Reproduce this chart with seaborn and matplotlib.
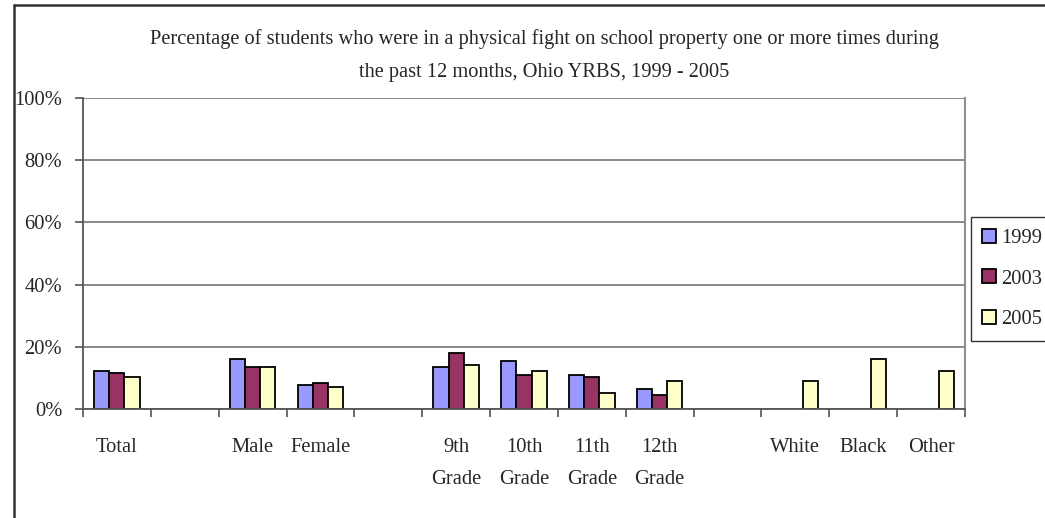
import numpy as np
import pandas as pd
import matplotlib
matplotlib.use("Agg")
import matplotlib.pyplot as plt
import seaborn as sns
from matplotlib.ticker import PercentFormatter
from matplotlib.lines import Line2D

# categories (blank slots are gaps between groups)
groups = ["Total", " ", "Male", "Female", "  ", "9th\nGrade", "10th\nGrade",
          "11th\nGrade", "12th\nGrade", "   ", "White", "Black", "Other"]
years = ["1999", "2003", "2005"]

# percent values (nan = no bar)
v1999 = [12.1, np.nan, 16.0, 7.6, np.nan, 13.4, 15.4, 11.0, 6.5, np.nan, np.nan, np.nan, np.nan]
v2003 = [11.6, np.nan, 13.4, 8.4, np.nan, 18.1, 10.8, 10.2, 4.4, np.nan, np.nan, np.nan, np.nan]
v2005 = [10.2, np.nan, 13.4, 7.0, np.nan, 14.2, 12.1, 5.2, 8.9, np.nan, 8.9, 16.0, 12.1]

colors = ["#9999FF", "#993366", "#FFFFCC"]

# long format table for seaborn
rows = []
for yr, vals in zip(years, [v1999, v2003, v2005]):
    for g, v in zip(groups, vals):
        rows.append({"group": g, "year": yr, "pct": v})
df = pd.DataFrame(rows)

sns.set_style("white")
plt.rcParams["font.family"] = ["Liberation Serif", "DejaVu Serif"]

fig = plt.figure(figsize=(10.45, 5.18), dpi=100)
ax = fig.add_axes([83 / 1045, 1 - 409 / 518, (965 - 83) / 1045, (409 - 98) / 518])

sns.barplot(data=df, x="group", y="pct", hue="year", order=groups,
            hue_order=years, palette=colors, edgecolor="black", linewidth=1.3,
            width=0.67, gap=0, saturation=1, errorbar=None, ax=ax)

ax.set_xlim(-0.5, len(groups) - 0.5)
ax.set_ylim(0, 100)
ax.set_yticks(np.arange(0, 101, 20))
ax.yaxis.set_major_formatter(PercentFormatter(100, decimals=0))
ax.yaxis.grid(True, color="#808080", linewidth=1.3)
ax.set_axisbelow(True)
ax.set_xlabel("")
ax.set_ylabel("")

# ticks at category boundaries, like excel
ax.set_xticks(np.arange(-0.5, len(groups), 1), minor=True)
ax.tick_params(axis="x", which="major", length=0, pad=21, labelsize=14.8)
ax.tick_params(axis="x", which="minor", length=6, width=1.2, color="#555555",
               direction="out", bottom=True)
ax.tick_params(axis="y", length=6, width=1.2, color="#555555", direction="out",
               left=True, pad=9, labelsize=14.8)
for lab in ax.get_xticklabels():
    lab.set_linespacing(1.95)
    lab.set_verticalalignment("top")

for side in ["left", "bottom"]:
    ax.spines[side].set_color("#555555")
    ax.spines[side].set_linewidth(1.3)
ax.spines["right"].set_color("#909090")
ax.spines["right"].set_linewidth(1.5)
ax.spines["top"].set_visible(False)

fig.text(544 / 1045, 1 - 39 / 518,
         "Percentage of students who were in a physical fight on school property one or more times during",
         ha="center", va="center", fontsize=14.7)
fig.text(544 / 1045, 1 - 73 / 518, "the past 12 months, Ohio YRBS, 1999 - 2005",
         ha="center", va="center", fontsize=14.7)

ax.legend(loc="center left", bbox_to_anchor=(971 / 1045, 1 - 279 / 518),
          bbox_transform=fig.transFigure, frameon=True, fancybox=False,
          edgecolor="black", fontsize=14.8, handlelength=0.65, handleheight=0.65,
          handletextpad=0.25, labelspacing=1.05, borderpad=0.55, borderaxespad=0)
leg = ax.get_legend()
leg.get_frame().set_linewidth(1.0)

# chart area border (top and left)
fig.add_artist(Line2D([14 / 1045, 1], [1 - 5 / 518, 1 - 5 / 518], color="#333333", linewidth=1.8))
fig.add_artist(Line2D([14 / 1045, 14 / 1045], [0, 1 - 5 / 518], color="#333333", linewidth=1.8))

fig.savefig("out.png", dpi=100)
